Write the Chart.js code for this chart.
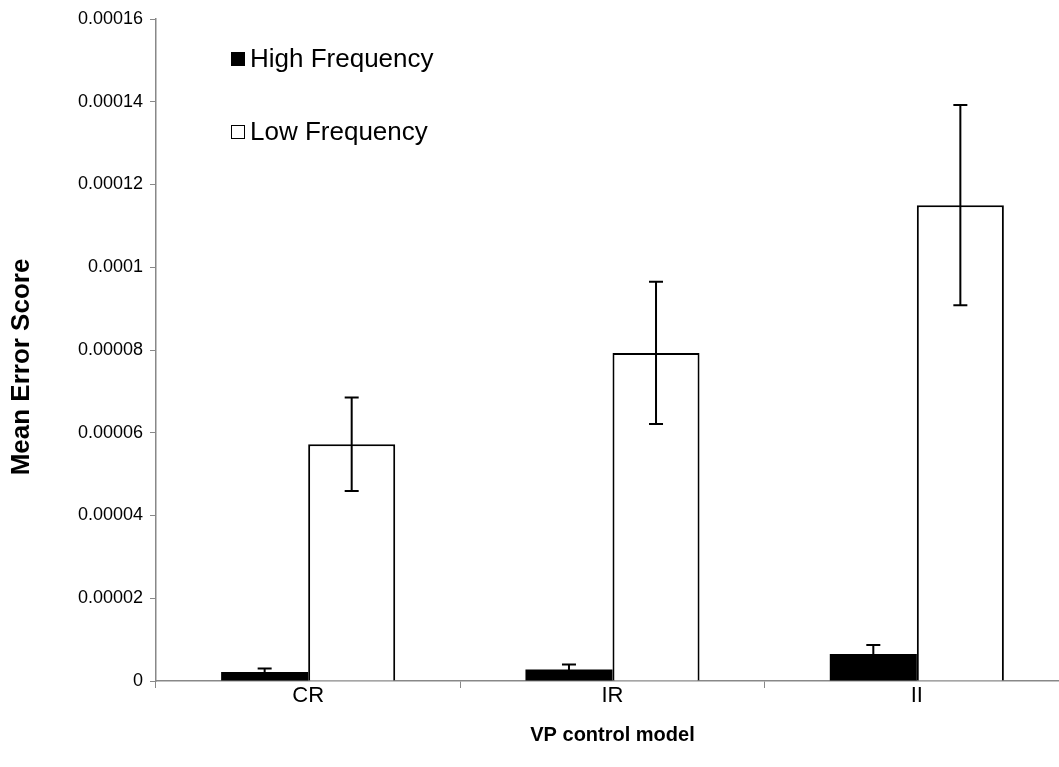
<!DOCTYPE html>
<html>
<head>
<meta charset="utf-8">
<script src="https://cdn.jsdelivr.net/npm/chart.js@4"></script>
<style>
html,body{margin:0;padding:0;background:#fff;overflow:hidden;}
#wrap{position:relative;width:1059px;height:767px;overflow:hidden;}
canvas{display:block;}
.leg{position:absolute;font-family:"Liberation Sans",Arial,sans-serif;font-size:26px;line-height:30px;color:#000;white-space:nowrap;}
.leg span.box{display:inline-block;width:14px;height:14px;margin-right:5px;box-sizing:border-box;vertical-align:1px;}
</style>
</head>
<body>
<div id="wrap">
<canvas id="c" width="1069" height="767"></canvas>
<div class="leg" style="left:231px;top:43px;"><span class="box" style="background:#000;"></span>High Frequency</div>
<div class="leg" style="left:231px;top:116px;"><span class="box" style="border:1.5px solid #000;background:#fff;"></span>Low Frequency</div>
</div>
<script>
const categories = ["CR", "IR", "II"];
const seriesNames = ["High Frequency", "Low Frequency"];
const highFreq = [0.0000022, 0.0000028, 0.0000065];
const highFreqErr = [0.0000008, 0.0000012, 0.0000022];
const lowFreq = [0.0000572, 0.0000793, 0.0001150];
const lowFreqErr = [0.0000113, 0.0000172, 0.0000242];
const yTicks = [0, 0.00002, 0.00004, 0.00006, 0.00008, 0.0001, 0.00012, 0.00014, 0.00016];
const yTitle = "Mean Error Score";
const xTitle = "VP control model";

const errors = [highFreqErr, lowFreqErr];
const font = "'Liberation Sans', Arial, sans-serif";

const errorBarPlugin = {
  id: 'errbars',
  afterDatasetsDraw(chart) {
    const ctx = chart.ctx;
    const y = chart.scales.y;
    ctx.save();
    ctx.strokeStyle = '#000';
    ctx.lineWidth = 2;
    chart.data.datasets.forEach((ds, di) => {
      const meta = chart.getDatasetMeta(di);
      meta.data.forEach((bar, i) => {
        const v = ds.data[i], e = errors[di][i];
        const x = bar.x;
        const yt = y.getPixelForValue(v + e);
        const yb = y.getPixelForValue(v - e);
        ctx.beginPath();
        ctx.moveTo(x, yt); ctx.lineTo(x, yb);
        ctx.moveTo(x - 7, yt); ctx.lineTo(x + 7, yt);
        ctx.moveTo(x - 7, yb); ctx.lineTo(x + 7, yb);
        ctx.stroke();
      });
    });
    ctx.restore();
  }
};

const yTitlePlugin = {
  id: 'ytitle',
  afterDraw(chart) {
    const ctx = chart.ctx;
    ctx.save();
    ctx.translate(22, 367);
    ctx.rotate(-Math.PI / 2);
    ctx.font = "bold 26px " + font;
    ctx.fillStyle = '#000';
    ctx.textAlign = 'center';
    ctx.textBaseline = 'middle';
    ctx.fillText(yTitle, 0, 0);
    ctx.restore();
  }
};

new Chart(document.getElementById('c'), {
  type: 'bar',
  data: {
    labels: categories,
    datasets: [
      { label: seriesNames[0], data: highFreq, backgroundColor: '#000', borderColor: '#000', borderWidth: 0 },
      { label: seriesNames[1], data: lowFreq, backgroundColor: '#fff', borderColor: '#000', borderWidth: 2 }
    ]
  },
  options: {
    responsive: false,
    animation: false,
    devicePixelRatio: 1,
    layout: { padding: { top: 19, right: 0, left: 0, bottom: 0 } },
    categoryPercentage: 0.572,
    barPercentage: 1.0,
    plugins: { legend: { display: false }, tooltip: { enabled: false } },
    scales: {
      x: {
        grid: { display: true, drawOnChartArea: false, offset: true, tickLength: 7, color: '#888', lineWidth: 1 },
        border: { display: true, color: '#888', width: 1.5 },
        ticks: { color: '#000', font: { family: font, size: 22 }, padding: -5 },
        title: { display: true, text: xTitle, color: '#000', font: { family: font, size: 20, weight: 'bold' }, padding: { top: 4, bottom: 20 } },
        afterFit(s) { s.height = 86; }
      },
      y: {
        min: 0, max: 0.00016,
        afterBuildTicks(s) { s.ticks = yTicks.map(v => ({ value: v })); },
        grid: { display: true, drawOnChartArea: false, tickLength: 6, color: '#888' },
        border: { display: true, color: '#888', width: 1.5 },
        ticks: { color: '#000', font: { family: font, size: 18 }, padding: 7,
          callback: (v) => { const s = String(+v.toPrecision(6)); return s.includes('e') ? Number(v).toFixed(5).replace(/0+$/,'') : s; } },
        title: { display: false },
        afterFit(s) { s.width = 156; }
      }
    }
  },
  plugins: [errorBarPlugin, yTitlePlugin]
});
</script>
</body>
</html>
